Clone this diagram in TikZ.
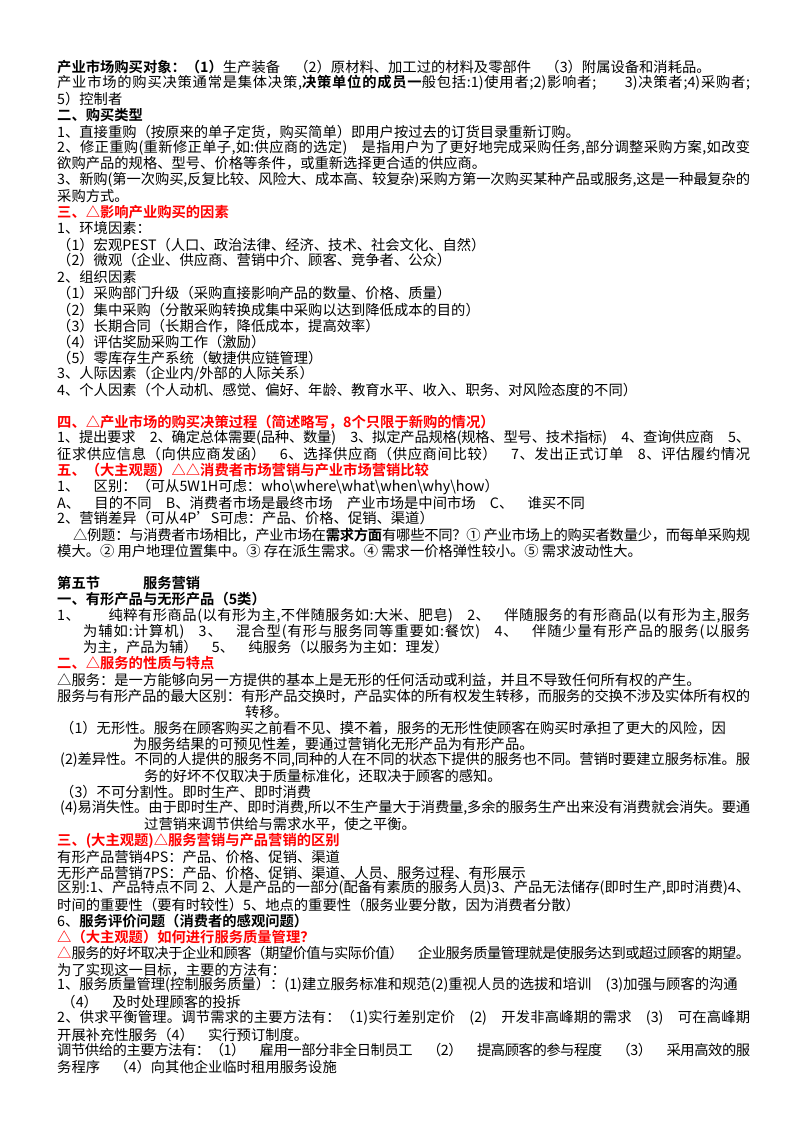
\documentclass[tikz,border=0pt]{standalone}
\usepackage{fontspec}
\setmainfont{Noto Sans CJK SC}[BoldFont={Noto Sans CJK SC Bold}]
\newcount\cjkcc
\cjkcc="2460 \loop \XeTeXcharclass\cjkcc=1 \advance\cjkcc 1 \ifnum\cjkcc<"24A0 \repeat
\cjkcc="25B3 \XeTeXcharclass\cjkcc=1
\cjkcc="3000 \loop \XeTeXcharclass\cjkcc=1 \advance\cjkcc 1 \ifnum\cjkcc<"A000 \repeat
\cjkcc="FF00 \loop \XeTeXcharclass\cjkcc=1 \advance\cjkcc 1 \ifnum\cjkcc<"FFF0 \repeat
\XeTeXinterchartokenstate=1
\newcommand\cjkg{\hskip0pt plus 4pt minus 1pt\relax}
\XeTeXinterchartoks 1 1 = {\cjkg}
\XeTeXinterchartoks 0 1 = {\cjkg}
\XeTeXinterchartoks 1 0 = {\cjkg}
\newcommand\fl[2][693pt]{\makebox[#1][s]{#2}}
\tikzset{txt/.style={anchor=west,inner sep=0pt,font=\fontsize{14.3}{16}\selectfont},
 hd/.style={txt,font=\fontsize{14.3}{16}\selectfont\bfseries},
 rhd/.style={hd,text=red}}
\begin{document}
\begin{tikzpicture}[x=1pt,y=-1pt]
\useasboundingbox (0,0) rectangle (800,1132);
\node[txt] (l1) at (57,67) {\textbf{产业市场购买对象：（1）}生产装备\quad（2）原材料、加工过的材料及零部件\quad（3）附属设备和消耗品。};
\node[txt] (l2) at (57,83) {\fl{产业市场的购买决策通常是集体决策,\textbf{决策单位的成员一}般包括:1)使用者;2)影响者;\hspace{2em}3)决策者;4)采购者;}};
\node[txt] (l3) at (57,99) {5）控制者};
\node[hd] (l4) at (57,115) {二、购买类型};
\node[txt] (l5) at (57,132) {1、直接重购（按原来的单子定货，购买简单）即用户按过去的订货目录重新订购。};
\node[txt] (l6) at (57,148) {\fl{2、修正重购(重新修正单子,如:供应商的选定)\quad 是指用户为了更好地完成采购任务,部分调整采购方案,如改变}};
\node[txt] (l7) at (57,163) {欲购产品的规格、型号、价格等条件，或重新选择更合适的供应商。};
\node[txt] (l8) at (57,180) {\fl{3、新购(第一次购买,反复比较、风险大、成本高、较复杂)采购方第一次购买某种产品或服务,这是一种最复杂的}};
\node[txt] (l9) at (57,196) {采购方式。};
\node[rhd] (l10) at (57,212) {三、△影响产业购买的因素};
\node[txt] (l11) at (57,228) {1、环境因素：};
\node[txt] (l12) at (57,245) {（1）宏观PEST（人口、政治法律、经济、技术、社会文化、自然）};
\node[txt] (l13) at (57,260) {（2）微观（企业、供应商、营销中介、顾客、竞争者、公众）};
\node[txt] (l14) at (57,277) {2、组织因素};
\node[txt] (l15) at (57,293) {（1）采购部门升级（采购直接影响产品的数量、价格、质量）};
\node[txt] (l16) at (57,310) {（2）集中采购（分散采购转换成集中采购以达到降低成本的目的）};
\node[txt] (l17) at (57,326) {（3）长期合同（长期合作，降低成本，提高效率）};
\node[txt] (l18) at (57,342) {（4）评估奖励采购工作（激励）};
\node[txt] (l19) at (57,358) {（5）零库存生产系统（敏捷供应链管理）};
\node[txt] (l20) at (57,374) {3、人际因素（企业内/外部的人际关系）};
\node[txt] (l21) at (57,390) {4、个人因素（个人动机、感觉、偏好、年龄、教育水平、收入、职务、对风险态度的不同）};
\node[rhd] (l22) at (57,422) {四、△产业市场的购买决策过程（简述略写，8个只限于新购的情况）};
\node[txt] (l23) at (57,438) {\fl{1、提出要求\quad 2、确定总体需要(品种、数量)\quad 3、拟定产品规格(规格、型号、技术指标)\quad 4、查询供应商\quad 5、}};
\node[txt] (l24) at (57,454) {\fl{征求供应信息（向供应商发函）\quad 6、选择供应商（供应商间比较）\quad 7、发出正式订单\quad 8、评估履约情况}};
\node[rhd] (l25) at (57,470) {五、（大主观题）△△消费者市场营销与产业市场营销比较};
\node[txt] (l26) at (57,487) {1、\quad 区别：（可从5W1H可虑：who\textbackslash where\textbackslash what\textbackslash when\textbackslash why\textbackslash how）};
\node[txt] (l27) at (57,503) {A、\quad 目的不同\quad B、消费者市场是最终市场\quad 产业市场是中间市场\quad C、\quad 谁买不同};
\node[txt] (l28) at (57,518) {2、营销差异（可从4P’S可虑：产品、价格、促销、渠道）};
\node[txt] (l29) at (73,535) {\fl[677pt]{△例题：与消费者市场相比，产业市场在\textbf{需求方面}有哪些不同？① 产业市场上的购买者数量少，而每单采购规}};
\node[txt] (l30) at (57,551) {模大。② 用户地理位置集中。③ 存在派生需求。④ 需求一价格弹性较小。⑤ 需求波动性大。};
\node[hd] (l31) at (57,583) {第五节\hspace{3em}服务营销};
\node[hd] (l32) at (57,599) {一、有形产品与无形产品（5类）};
\node[txt] (l33) at (57,616) {\fl{1、\hspace{2em}纯粹有形商品(以有形为主,不伴随服务如:大米、肥皂)\quad 2、\quad 伴随服务的有形商品(以有形为主,服务}};
\node[txt] (l34) at (83,632) {\fl[667pt]{为辅如:计算机)\quad 3、\quad 混合型(有形与服务同等重要如:餐饮)\quad 4、\quad 伴随少量有形产品的服务(以服务}};
\node[txt] (l35) at (83,647) {为主，产品为辅）\quad 5、\quad 纯服务（以服务为主如：理发）};
\node[rhd] (l36) at (57,663) {二、△服务的性质与特点};
\node[txt] (l37) at (57,680) {△服务：是一方能够向另一方提供的基本上是无形的任何活动或利益，并且不导致任何所有权的产生。};
\node[txt] (l38) at (57,696) {\fl{服务与有形产品的最大区别：有形产品交换时，产品实体的所有权发生转移，而服务的交换不涉及实体所有权的}};
\node[txt] (l39) at (245,712) {转移。};
\node[txt] (l40) at (60,728) {（1）无形性。服务在顾客购买之前看不见、摸不着，服务的无形性使顾客在购买时承担了更大的风险，因};
\node[txt] (l41) at (133,744) {为服务结果的可预见性差，要通过营销化无形产品为有形产品。};
\node[txt] (l42) at (60,760) {\fl[690pt]{(2)差异性。不同的人提供的服务不同,同种的人在不同的状态下提供的服务也不同。营销时要建立服务标准。服}};
\node[txt] (l43) at (144,776) {务的好坏不仅取决于质量标准化，还取决于顾客的感知。};
\node[txt] (l44) at (60,792) {（3）不可分割性。即时生产、即时消费};
\node[txt] (l45) at (60,808) {\fl[690pt]{(4)易消失性。由于即时生产、即时消费,所以不生产量大于消费量,多余的服务生产出来没有消费就会消失。要通}};
\node[txt] (l46) at (144,824) {过营销来调节供给与需求水平，使之平衡。};
\node[rhd] (l47) at (57,841) {三、(大主观题)△服务营销与产品营销的区别};
\node[txt] (l48) at (57,857) {有形产品营销4PS：产品、价格、促销、渠道};
\node[txt] (l49) at (57,873) {无形产品营销7PS：产品、价格、促销、渠道、人员、服务过程、有形展示};
\node[txt] (l50) at (57,888) {\fl{区别:1、产品特点不同\hspace{4pt}2、人是产品的一部分(配备有素质的服务人员)3、产品无法储存(即时生产,即时消费)4、}};
\node[txt] (l51) at (57,905) {时间的重要性（要有时较性）5、地点的重要性（服务业要分散，因为消费者分散）};
\node[txt] (l52) at (57,921) {6、\textbf{服务评价问题（消费者的感观问题）}};
\node[rhd] (l53) at (57,937) {△（大主观题）如何进行服务质量管理？};
\node[txt] (l54) at (57,953) {\fl{{\color{red}△}服务的好坏取决于企业和顾客（期望价值与实际价值）\quad 企业服务质量管理就是使服务达到或超过顾客的期望。}};
\node[txt] (l55) at (57,970) {为了实现这一目标，主要的方法有：};
\node[txt] (l56) at (57,985) {1、服务质量管理(控制服务质量）：(1)建立服务标准和规范(2)重视人员的选拔和培训\quad (3)加强与顾客的沟通};
\node[txt] (l57) at (57,1002) {\hspace{0.3em}（4）\quad 及时处理顾客的投拆};
\node[txt] (l58) at (57,1018) {\fl{2、供求平衡管理。调节需求的主要方法有：（1)实行差别定价\quad (2)\quad 开发非高峰期的需求\quad (3)\quad 可在高峰期}};
\node[txt] (l59) at (57,1035) {开展补充性服务（4）\quad 实行预订制度。};
\node[txt] (l60) at (57,1050) {\fl{调节供给的主要方法有：（1）\quad 雇用一部分非全日制员工\quad（2）\quad 提高顾客的参与程度\quad（3）\quad 采用高效的服}};
\node[txt] (l61) at (57,1067) {务程序\quad（4）向其他企业临时租用服务设施};
\end{tikzpicture}
\end{document}
